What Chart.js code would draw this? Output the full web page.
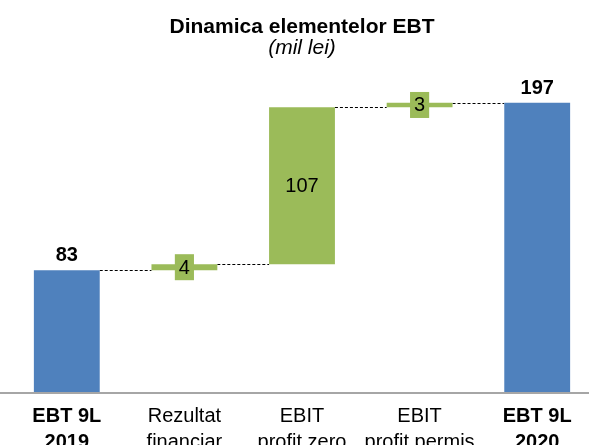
<!DOCTYPE html>
<html lang="ro">
<head>
  <meta charset="UTF-8">
  <title>Dinamica elementelor EBT</title>
  <script src="https://cdn.jsdelivr.net/npm/chart.js"></script>
  <style>
    html, body { margin: 0; padding: 0; overflow: hidden; background: #fff; }
    #wrap { position: relative; width: 596px; height: 445px; }
  </style>
</head>
<body>
<div id="wrap"><canvas id="ebtChart"></canvas></div>

<script>
// data (mil lei)
const categories = [
  ['EBT 9L', '2019'],
  ['Rezultat', 'financiar'],
  ['EBIT', 'profit zero'],
  ['EBIT', 'profit permis'],
  ['EBT 9L', '2020']
];
const values = [83, 4, 107, 3, 197];
const isTotal = [true, false, false, false, true];

const BLUE = '#4F81BD';
const GREEN = '#9BBB59';
const FONT = "'Liberation Sans', Arial, sans-serif";

// totals stand on zero, the deltas float on the running sum
let running = 0;
const ranges = values.map((v, i) => {
  if (isTotal[i]) { running = v; return [0, v]; }
  const r = [running, running + v];
  running += v;
  return r;
});

const waterfallExtras = {
  id: 'waterfallExtras',
  beforeDatasetsDraw(chart) {
    const ctx = chart.ctx;
    const y = chart.scales.y;
    const bars = chart.getDatasetMeta(0).data;
    const y0 = y.getPixelForValue(0);

    ctx.save();
    // base line across the whole width
    ctx.strokeStyle = '#A6A6A6';
    ctx.lineWidth = 2;
    ctx.beginPath();
    ctx.moveTo(0, y0 + 1);
    ctx.lineTo(chart.width, y0 + 1);
    ctx.stroke();

    // dashed connectors between bars
    ctx.strokeStyle = '#000';
    ctx.lineWidth = 1;
    ctx.setLineDash([3, 2]);
    for (let i = 0; i < bars.length - 1; i++) {
      const yy = Math.round(y.getPixelForValue(ranges[i][1])) + 0.5;
      ctx.beginPath();
      ctx.moveTo(bars[i].x + bars[i].width / 2, yy);
      ctx.lineTo(bars[i + 1].x - bars[i + 1].width / 2, yy);
      ctx.stroke();
    }
    ctx.restore();
  },
  afterDatasetsDraw(chart) {
    const ctx = chart.ctx;
    const y = chart.scales.y;
    const bars = chart.getDatasetMeta(0).data;

    ctx.save();
    ctx.textAlign = 'center';
    ctx.fillStyle = '#000';
    bars.forEach((bar, i) => {
      const txt = String(values[i]);
      if (isTotal[i]) {
        ctx.font = 'bold 20px ' + FONT;
        ctx.textBaseline = 'alphabetic';
        ctx.fillText(txt, bar.x, y.getPixelForValue(ranges[i][1]) - 9);
      } else {
        ctx.font = '20px ' + FONT;
        const mid = (y.getPixelForValue(ranges[i][0]) + y.getPixelForValue(ranges[i][1])) / 2;
        const w = ctx.measureText(txt).width + 8;
        ctx.fillStyle = GREEN;
        ctx.fillRect(bar.x - w / 2, mid - 13, w, 26);
        ctx.fillStyle = '#000';
        ctx.textBaseline = 'middle';
        ctx.fillText(txt, bar.x, mid + 1);
      }
    });
    ctx.restore();
  }
};

new Chart(document.getElementById('ebtChart'), {
  type: 'bar',
  data: {
    labels: categories,
    datasets: [{
      data: ranges,
      backgroundColor: isTotal.map(t => t ? BLUE : GREEN),
      borderWidth: 0,
      barPercentage: 0.56,
      categoryPercentage: 1.0
    }]
  },
  options: {
    responsive: true,
    maintainAspectRatio: false,
    animation: false,
    layout: { padding: { left: 8, right: 0, top: 0, bottom: 0 } },
    plugins: {
      legend: { display: false },
      tooltip: { enabled: false },
      title: {
        display: true,
        text: 'Dinamica elementelor EBT',
        color: '#000',
        font: { family: FONT, size: 21, weight: 'bold', lineHeight: 1 },
        padding: { top: 17, bottom: 0 }
      },
      subtitle: {
        display: true,
        text: '(mil lei)',
        color: '#000',
        font: { family: FONT, size: 21, style: 'italic', lineHeight: 1 },
        padding: { top: 0, bottom: 10 }
      }
    },
    scales: {
      x: {
        grid: { display: false, drawTicks: false },
        border: { display: false },
        ticks: {
          color: '#000',
          padding: 12,
          maxRotation: 0,
          autoSkip: false,
          font: c => ({
            family: FONT,
            size: 20,
            lineHeight: 1.27,
            weight: (c.index === 0 || c.index === 4) ? 'bold' : 'normal'
          })
        },
        afterFit: s => { s.height = 53; }
      },
      y: {
        display: false,
        min: 0,
        max: 220
      }
    }
  },
  plugins: [waterfallExtras]
});
</script>
</body>
</html>
